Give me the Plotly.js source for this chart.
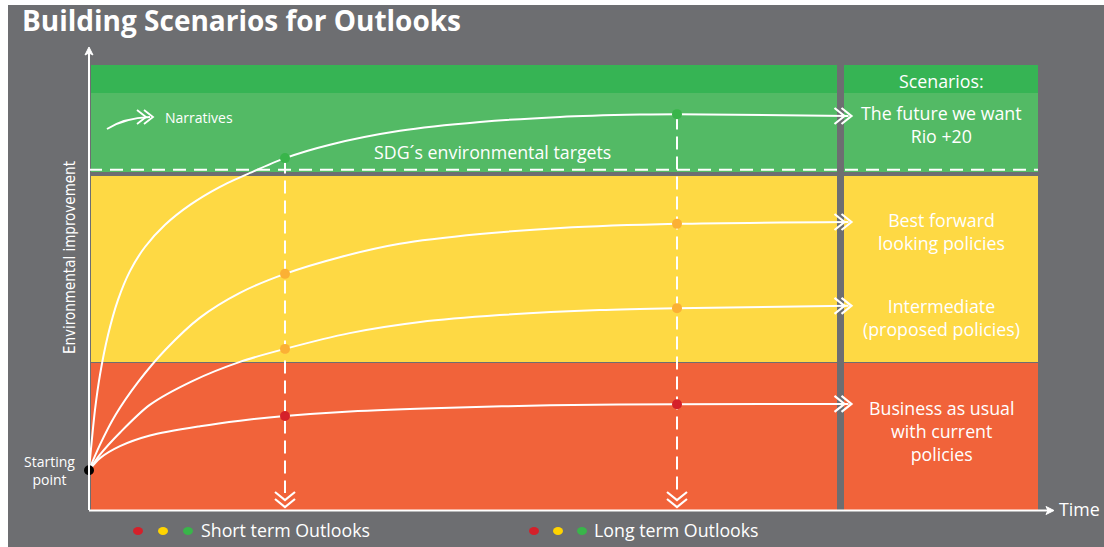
<!DOCTYPE html>
<html><head><meta charset="utf-8">
<script src="https://cdn.plot.ly/plotly-3.0.1.min.js"></script>
<style>html,body{margin:0;padding:0;background:#fff;}#chart{width:1104px;height:547px;}</style>
</head><body><div id="chart"></div>
<script>
// ---------------- DATA (time units; improvement 0-100) ----------------
const shortTerm = 2;
const longTerm = 6;
const startX = 0;
const startY = 8.6;
const scenarioLabels = ['The future we want<br>Rio +20', 'Best forward<br>looking policies', 'Intermediate<br>(proposed policies)', 'Business as usual<br>with current<br>policies'];
const futureX = [0, 0.061, 0.112, 0.194, 0.296, 0.418, 0.571, 0.776, 1.031, 1.337, 1.643, 2, 2.459, 3.173, 3.99, 4.806, 5.622, 6, 7.75];
const futureY = [8.6, 21.6, 29.2, 37.8, 45.4, 51.6, 56.8, 61.6, 65.9, 69.8, 72.8, 76.0, 78.9, 81.9, 83.8, 84.9, 85.4, 85.5, 85.1];
const bestX = [0, 0.11, 0.27, 0.5, 0.78, 1.13, 1.54, 2, 2.56, 3.17, 3.99, 4.81, 6, 7.75];
const bestY = [8.6, 14.0, 20.5, 27.6, 34.6, 41.5, 46.9, 51.0, 54.6, 57.5, 59.6, 60.9, 61.8, 62.2];
const interX = [0, 0.11, 0.32, 0.62, 1.06, 1.54, 2, 2.66, 3.38, 4.19, 5.21, 6, 7.75];
const interY = [8.6, 11.9, 16.8, 22.7, 27.9, 32.0, 34.8, 38.2, 40.6, 42.1, 43.2, 43.6, 44.1];
const bauX = [0, 0.112, 0.316, 0.622, 1.133, 1.541, 2, 2.663, 3.684, 4.704, 6, 7.75];
const bauY = [8.6, 11.2, 13.8, 16.1, 18.1, 19.3, 20.3, 21.3, 22.1, 22.6, 22.85, 22.9];
const sdgTarget = 73.5;
const dotColors = ['#39b54a', '#fbb034', '#fbb034', '#d5202a'];
const legendColors = ['#d5202a', '#ffd400', '#39b54a'];

// ---------------- LAYOUT HELPERS ----------------
const W = 1104, H = 547, ML = 80, MR = 44, MT = 40, MB = 27;
const PW = W - ML - MR, PH = H - MT - MB;
const px = v => (v - ML) / PW;
const py = v => (H - MB - v) / PH;
const X = p => (p - 89) / 98;
const Y = p => (510 - p) / 4.63;
function P(str) { return str.replace(/(-?[\d.]+),(-?[\d.]+)/g, (m, a, b) => px(+a).toFixed(5) + ',' + py(+b).toFixed(5)); }
const WHITE = '#ffffff';
const FONT = 'Open Sans, Noto Sans, sans-serif';
const FS = 17.8;

const series = [[futureX, futureY], [bestX, bestY], [interX, interY], [bauX, bauY]];

const traces = [];
series.forEach(s => {
  traces.push({x: s[0], y: s[1], mode: 'lines', line: {color: WHITE, width: 2, shape: 'spline', smoothing: 0.8}, hoverinfo: 'skip'});
});
const stX = [], stY = [], ltX = [], ltY = [];
series.forEach(s => {
  stX.push(shortTerm); stY.push(s[1][s[0].indexOf(shortTerm)]);
  ltX.push(longTerm); ltY.push(s[1][s[0].indexOf(longTerm)]);
});
traces.push({x: stX, y: stY, mode: 'markers', marker: {color: dotColors, size: 10}, hoverinfo: 'skip'});
traces.push({x: ltX, y: ltY, mode: 'markers', marker: {color: dotColors, size: 10}, hoverinfo: 'skip'});
traces.push({x: [startX], y: [startY], mode: 'markers', marker: {color: '#000', size: 10}, hoverinfo: 'skip'});

// ---------------- SHAPES ----------------
const shapes = [];
function rect(x0, y0, x1, y1, c) { shapes.push({type: 'rect', xref: 'paper', yref: 'paper', x0: px(x0), x1: px(x1), y0: py(y0), y1: py(y1), fillcolor: c, line: {width: 0}, layer: 'below'}); }
rect(8, 5, 1104, 547, '#6d6e71');
[[91, 837], [844, 1038]].forEach(([a, b]) => {
  rect(a, 65, b, 93, '#36b454');
  rect(a, 93, b, 172, '#53ba65');
  rect(a, 176, b, 362, '#fed944');
  rect(a, 363, b, 510, '#f1633a');
});
// SDG dashed target line
shapes.push({type: 'line', xref: 'x', yref: 'y', x0: 0, x1: X(1038), y0: sdgTarget, y1: sdgTarget, line: {color: WHITE, width: 2, dash: '13px,8px'}, layer: 'below'});
// vertical dashed lines
[[shortTerm, stY[0]], [longTerm, ltY[0]]].forEach(([xx, yy]) => {
  shapes.push({type: 'line', xref: 'x', yref: 'y', x0: xx, x1: xx, y0: yy - 0.5, y1: Y(493), line: {color: WHITE, width: 2, dash: '13px,7px'}, layer: 'below'});
});
function pathShape(d, w, fill) {
  shapes.push({type: 'path', xref: 'paper', yref: 'paper', path: P(d), line: {color: WHITE, width: w}, fillcolor: fill || 'rgba(0,0,0,0)', layer: 'above'});
}
// axes
pathShape('M 89,510 L 89,51', 2);
pathShape('M 85,55 L 89,47 L 93,55 L 89,53 Z', 1, WHITE);
pathShape('M 89,510.5 L 1050,510.5', 2);
pathShape('M 1046,506.5 L 1054,510.5 L 1046,514.5 L 1048,510.5 Z', 1, WHITE);
// right chevrons at arrow ends
function chevR(tx, ty) { pathShape(`M ${tx-10},${ty-8} L ${tx},${ty} L ${tx-10},${ty+8} M ${tx-17},${ty-8} L ${tx-7},${ty} L ${tx-17},${ty+8}`, 2.2); }
series.forEach(s => { const n = s[0].length - 1; const tx = 89 + s[0][n] * 98 + 3; const ty = 510 - s[1][n] * 4.63; chevR(tx, ty); });
// down chevrons
function chevD(cx, ty) { pathShape(`M ${cx-10},${ty-8} L ${cx},${ty} L ${cx+10},${ty-8} M ${cx-10},${ty-15} L ${cx},${ty-7} L ${cx+10},${ty-15}`, 2.2); }
chevD(89 + shortTerm * 98, 507);
chevD(89 + longTerm * 98, 507);
// narratives icon
pathShape('M 107,129 Q 124,118 150,117', 1.8);
pathShape('M 144,110 L 153,117 L 144,124 M 137,110 L 146,117 L 137,124', 1.8);
// legend dots
function dot(cx, cy, c) { shapes.push({type: 'circle', xref: 'paper', yref: 'paper', x0: px(cx - 5), x1: px(cx + 5), y0: py(cy - 4), y1: py(cy + 4), fillcolor: c, line: {width: 0}, layer: 'above'}); }
[138, 163, 188].forEach((x, i) => dot(x, 531, legendColors[i]));
[534, 558, 582].forEach((x, i) => dot(x, 531, legendColors[i]));

// ---------------- ANNOTATIONS ----------------
const ann = [];
function txt(t, x, y, size, opts) {
  ann.push(Object.assign({text: t, xref: 'paper', yref: 'paper', x: px(x), y: py(y), showarrow: false, xanchor: 'center', yanchor: 'middle', borderpad: 0, font: {family: FONT, size: size, color: WHITE}}, opts || {}));
}
txt('Scenarios:', 941, 81, FS);
txt(scenarioLabels[0], 941, 124, FS);
txt(scenarioLabels[1], 941, 231, FS);
txt(scenarioLabels[2], 941, 317.5, FS);
txt(scenarioLabels[3], 941, 431, FS);
txt('SDG´s environmental targets', 492, 152, FS);
txt('Narratives', 164, 117, 14, {xanchor: 'left'});
txt('Starting<br>point', 49, 470.5, 14);
txt('Environmental improvement', 70, 258, 15, {textangle: -90, font: {family: 'Liberation Sans Narrow, DejaVu Sans Condensed, Open Sans', size: 15, color: WHITE}});
txt('Time', 1058, 509, FS, {xanchor: 'left'});
txt('Short term Outlooks', 200, 530, FS, {xanchor: 'left'});
txt('Long term Outlooks', 593, 530, FS, {xanchor: 'left'});

const layout = {
  width: W, height: H,
  margin: {l: ML, r: MR, t: MT, b: MB, pad: 0},
  paper_bgcolor: '#ffffff', plot_bgcolor: 'rgba(0,0,0,0)',
  showlegend: false, hovermode: false,
  title: {text: '<b>Building Scenarios for Outlooks</b>', font: {family: FONT, size: 28, color: WHITE}, x: 22 / W, xanchor: 'left', xref: 'container', y: 1 - 21 / H, yanchor: 'middle', yref: 'container'},
  xaxis: {range: [X(80), X(1060)], visible: false, fixedrange: true},
  yaxis: {range: [Y(520), Y(40)], visible: false, fixedrange: true},
  shapes: shapes, annotations: ann
};
Plotly.newPlot('chart', traces, layout, {staticPlot: true, displayModeBar: false});
</script></body></html>
